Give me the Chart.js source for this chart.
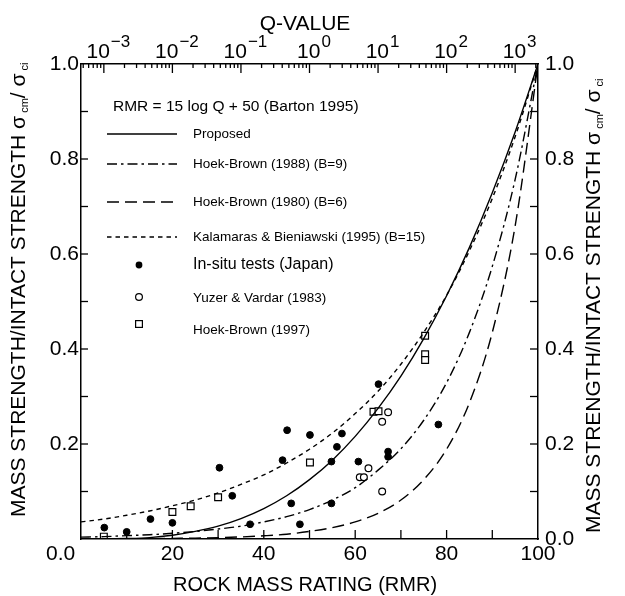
<!DOCTYPE html>
<html><head><meta charset="utf-8">
<script src="https://cdn.jsdelivr.net/npm/chart.js@4"></script>
<style>html,body{margin:0;padding:0;background:#fff}#wrap{width:625px;height:596px}</style>
</head><body><div id="wrap"><canvas id="c" width="625" height="596"></canvas></div>
<script>
// ---- data ----
const rmrGrid = [0,5,10,15,20,25,30,35,40,45,50,55,60,65,70,75,80,85,90,95,100];
const proposed = [0,0.0001,0.001,0.003,0.008,0.016,0.027,0.043,0.064,0.091,0.125,0.166,0.216,0.275,0.343,0.422,0.512,0.614,0.729,0.857,1.0];
const hoekBrown1988 = [0.004,0.005,0.007,0.009,0.012,0.016,0.021,0.027,0.036,0.047,0.062,0.082,0.108,0.145,0.19,0.25,0.329,0.435,0.574,0.757,1.0];
const hoekBrown1980 = [0.0002,0.0004,0.0006,0.0008,0.0013,0.0019,0.0029,0.0044,0.0067,0.010,0.016,0.024,0.036,0.054,0.082,0.125,0.189,0.287,0.435,0.659,1.0];
const kalamaras = [0.036,0.042,0.050,0.059,0.070,0.082,0.097,0.115,0.135,0.160,0.189,0.223,0.264,0.311,0.368,0.435,0.513,0.607,0.717,0.847,1.0];

const insituRmr = [5.1,10,15.2,20,30.3,33.1,37,44.1,45.1,46,47.9,50.1,54.8,54.8,56,57.1,60.7,65.1,67.2,67.2,78.2];
const insituVal = [0.024,0.015,0.042,0.034,0.150,0.091,0.031,0.166,0.229,0.075,0.031,0.219,0.075,0.163,0.194,0.222,0.163,0.326,0.184,0.173,0.241];
const yuzerRmr = [61,61.9,62.9,65.9,65.9,67.2];
const yuzerVal = [0.13,0.13,0.149,0.247,0.10,0.267];
const hb1997Rmr = [5,20,24,30,50.1,64,65.1,75.3,75.3,75.3];
const hb1997Val = [0.005,0.057,0.069,0.088,0.161,0.268,0.269,0.428,0.389,0.377];

const xTicks = [0,20,40,60,80,100];
const yTicks = [0,0.2,0.4,0.6,0.8,1.0];
const qExponents = [-3,-2,-1,0,1,2,3];

const legendHeader = 'RMR = 15 log Q + 50 (Barton 1995)';
const legendNames = ['Proposed','Hoek-Brown (1988) (B=9)','Hoek-Brown (1980) (B=6)','Kalamaras & Bieniawski (1995) (B=15)','In-situ tests (Japan)','Yuzer & Vardar (1983)','Hoek-Brown (1997)'];
// ------------------------------------------------

const FONT = '"Liberation Sans", Arial, Helvetica, sans-serif';
const pts = (xs, ys) => xs.map((x, i) => ({x, y: ys[i]}));

const dashes = {
  proposed: [],
  hb1988: [10,4,2.5,4],
  hb1980: [12,6],
  kal: [4.5,4]
};

function lineDs(label, ys, dash) {
  return {label, type:'line', xAxisID:'x', yAxisID:'yl', data: pts(rmrGrid, ys), borderColor:'#000', borderWidth:1.4,
    borderDash: dash, pointRadius:0, showLine:true, fill:false, cubicInterpolationMode:'monotone'};
}

const datasets = [
  lineDs(legendNames[0], proposed, dashes.proposed),
  lineDs(legendNames[1], hoekBrown1988, dashes.hb1988),
  lineDs(legendNames[2], hoekBrown1980, dashes.hb1980),
  lineDs(legendNames[3], kalamaras, dashes.kal),
  {label: legendNames[4], xAxisID:'x', yAxisID:'yl', data: pts(insituRmr, insituVal), pointStyle:'circle', pointRadius:3.4,
    backgroundColor:'#000', borderColor:'#000', borderWidth:1, showLine:false},
  {label: legendNames[5], xAxisID:'x', yAxisID:'yl', data: pts(yuzerRmr, yuzerVal), pointStyle:'circle', pointRadius:3.4,
    backgroundColor:'#fff', borderColor:'#000', borderWidth:1.2, showLine:false},
  {label: legendNames[6], xAxisID:'x', yAxisID:'yl', data: pts(hb1997Rmr, hb1997Val), pointStyle:'rect', pointRadius:4.8,
    backgroundColor:'#fff', borderColor:'#000', borderWidth:1.2, showLine:false}
];

function line(ctx, x1, y1, x2, y2) { ctx.beginPath(); ctx.moveTo(x1, y1); ctx.lineTo(x2, y2); ctx.stroke(); }

function drawRotTitle(ctx, cx, startY) {
  ctx.save();
  ctx.translate(cx, startY);
  ctx.rotate(-Math.PI / 2);
  ctx.textBaseline = 'middle';
  ctx.textAlign = 'left';
  let x = 0;
  const big = '21px ' + FONT, small = '11px ' + FONT;
  const parts = [
    ['MASS STRENGTH/INTACT STRENGTH ', big, 0],
    ['σ', big, 0], [' cm', small, 6], ['/', big, 0], [' σ', big, 0], [' ci', small, 6]
  ];
  for (const [t, f, dy] of parts) {
    ctx.font = f;
    ctx.fillText(t, x, dy);
    x += ctx.measureText(t).width;
  }
  ctx.restore();
}

const decor = {
  id: 'decor',
  afterDraw(chart) {
    const ctx = chart.ctx;
    const xs = chart.scales.x, yl = chart.scales.yl;
    const a = chart.chartArea;
    ctx.save();
    ctx.strokeStyle = '#000'; ctx.fillStyle = '#000'; ctx.lineWidth = 1.3;
    // inward tick marks
    for (let v = 10; v < 100; v += 10) { const px = xs.getPixelForValue(v); line(ctx, px, a.bottom, px, a.bottom - 9); }
    for (let k = 1; k < 10; k++) {
      const py = yl.getPixelForValue(k / 10);
      line(ctx, a.left, py, a.left + 7, py);
      line(ctx, a.right, py, a.right - 8, py);
    }
    // top Q-value log ticks
    for (let d = -4; d <= 3; d++) for (let m = 1; m <= 9; m++) {
      const r = 15 * (Math.log10(m) + d) + 50;
      if (r <= 0.3 || r >= 99.7) continue;
      const px = xs.getPixelForValue(r);
      line(ctx, px, a.top, px, a.top + (m === 1 ? 9 : 4));
    }
    // top tick labels 10^n
    ctx.textBaseline = 'alphabetic'; ctx.textAlign = 'left';
    for (const e of qExponents) {
      const px = xs.getPixelForValue(15 * e + 50);
      const es = e < 0 ? '\u2212' + Math.abs(e) : String(e);
      ctx.font = '21px ' + FONT; const wb = ctx.measureText('10').width;
      ctx.font = '17px ' + FONT; const we = ctx.measureText(es).width;
      const x0 = px - (wb + we) / 2 + 4;
      ctx.font = '21px ' + FONT; ctx.fillText('10', x0, 58);
      ctx.font = '17px ' + FONT; ctx.fillText(es, x0 + wb + 1, 47);
    }
    // axis titles
    ctx.textAlign = 'center'; ctx.textBaseline = 'middle';
    ctx.font = '21px ' + FONT;
    ctx.fillText('Q-VALUE', 305, 24);
    ctx.font = '20px ' + FONT;
    ctx.fillText('ROCK MASS RATING (RMR)', 305, 585);
    drawRotTitle(ctx, 19, 517);
    drawRotTitle(ctx, 594, 533);
    // legend
    ctx.textAlign = 'left'; ctx.textBaseline = 'middle';
    ctx.font = '15.5px ' + FONT;
    ctx.fillText(legendHeader, 113, 107);
    const lineRows = [[134, dashes.proposed], [164, dashes.hb1988], [202, dashes.hb1980], [237, dashes.kal]];
    lineRows.forEach(([y, d], i) => {
      ctx.setLineDash(d); ctx.lineWidth = 1.4;
      line(ctx, 107, y, 177, y);
      ctx.setLineDash([]);
      ctx.font = '13.5px ' + FONT;
      ctx.fillText(legendNames[i], 193, y);
    });
    // markers
    ctx.lineWidth = 1.2;
    ctx.beginPath(); ctx.arc(139, 265, 3.4, 0, Math.PI * 2); ctx.fill();
    ctx.font = '16px ' + FONT; ctx.fillText(legendNames[4], 193, 265);
    ctx.beginPath(); ctx.arc(139, 297, 3.4, 0, Math.PI * 2); ctx.stroke();
    ctx.font = '13.5px ' + FONT; ctx.fillText(legendNames[5], 193, 298);
    ctx.strokeRect(135.6, 320.6, 6.8, 6.8);
    ctx.fillText(legendNames[6], 193, 330);
    ctx.restore();
  }
};

const tickFont = {size: 21, family: FONT};
new Chart(document.getElementById('c'), {
  type: 'scatter',
  data: {datasets},
  options: {
    responsive: false, animation: false, devicePixelRatio: 1,
    layout: {padding: 0},
    plugins: {legend: {display: false}, tooltip: {enabled: false}},
    scales: {
      x: {type: 'linear', position: 'bottom', min: 0, max: 100,
        afterBuildTicks: s => { s.ticks = xTicks.map(v => ({value: v})); },
        afterFit: s => { s.height = 57; },
        ticks: {font: tickFont, color: '#000', padding: 3, maxRotation: 0, autoSkip: false,
          callback: v => v === 0 ? '0.0       ' : String(v)},
        grid: {display: false, drawTicks: false},
        border: {display: true, color: '#000', width: 1.5}},
      q: {type: 'linear', position: 'top', min: 0, max: 100,
        afterFit: s => { s.height = 64; },
        ticks: {display: false},
        grid: {display: false, drawTicks: false},
        border: {display: true, color: '#000', width: 1.5}},
      yl: {type: 'linear', position: 'left', min: 0, max: 1,
        afterBuildTicks: s => { s.ticks = yTicks.map(v => ({value: v})); },
        afterFit: s => { s.width = 81; },
        ticks: {font: tickFont, color: '#000', padding: 2,
          callback: v => v === 0 ? '' : v.toFixed(1)},
        grid: {display: false, drawTicks: false},
        border: {display: true, color: '#000', width: 1.5}},
      yr: {type: 'linear', position: 'right', min: 0, max: 1,
        afterBuildTicks: s => { s.ticks = yTicks.map(v => ({value: v})); },
        afterFit: s => { s.width = 87; },
        ticks: {font: tickFont, color: '#000', padding: 7,
          callback: v => v.toFixed(1)},
        grid: {display: false, drawTicks: false},
        border: {display: true, color: '#000', width: 1.5}}
    }
  },
  plugins: [decor]
});
</script>
</body></html>
